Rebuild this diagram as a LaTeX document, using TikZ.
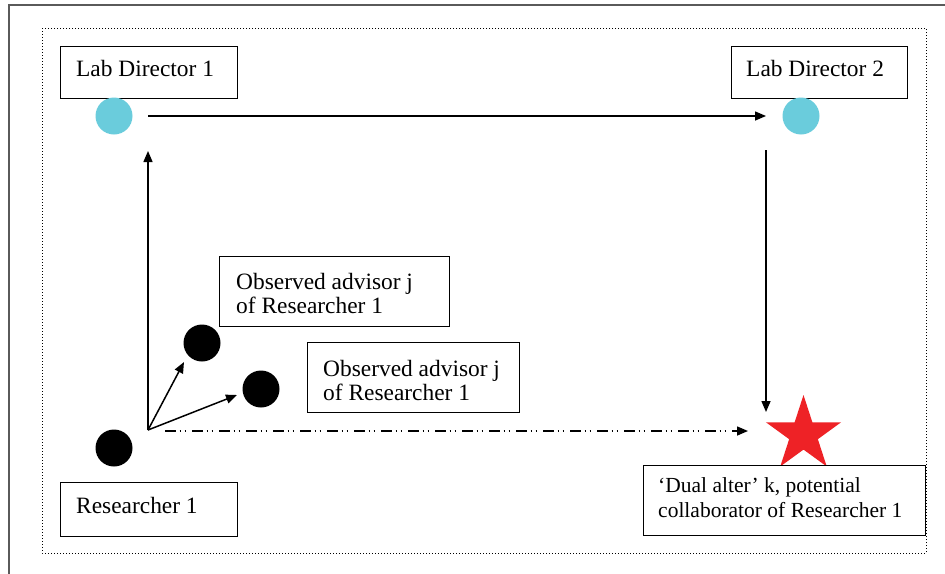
\documentclass[tikz,border=0pt]{standalone}
\usepackage{fontspec}
\setmainfont{Liberation Serif}
\usetikzlibrary{arrows.meta,shapes.geometric}
\tikzset{
  lbl/.style={draw=black, line width=1.1pt, anchor=north west, inner sep=0pt},
  txt/.style={inner sep=0pt, align=left, font=\fontsize{23.4}{24.5}\selectfont},
  dotc/.style={circle, fill=black, minimum size=37pt, inner sep=0pt},
  cyanc/.style={circle, fill=cyanfill, minimum size=37pt, inner sep=0pt},
  arr/.style={line width=1.5pt, -{Triangle[length=11pt,width=9pt]}},
}
\definecolor{cyanfill}{HTML}{6ACCDC}
\definecolor{starred}{HTML}{EE2226}
\definecolor{framegray}{HTML}{5A5A5A}
\begin{document}
\begin{tikzpicture}[x=1pt,y=-1pt]
\useasboundingbox (0,0) rectangle (945,573);
\clip (0,0) rectangle (945,573);
\fill[white] (0,0) rectangle (945,573);
% outer frame (cut by the page at right and bottom)
\draw[framegray, line width=1.6pt] (9,600) -- (9,5) -- (960,5);
% dotted frame
\draw[line width=1pt, dash pattern=on 1pt off 2pt] (42,28) rectangle (926,553);

% boxes
\node[lbl, minimum width=177pt, minimum height=52pt] (ld1box) at (60,46) {};
\node[txt, anchor=base west] (ld1) at (76,76) {Lab Director 1};
\node[lbl, minimum width=176pt, minimum height=52pt] (ld2box) at (731,46) {};
\node[txt, anchor=base west] (ld2) at (746,76) {Lab Director 2};
\node[lbl, minimum width=177pt, minimum height=54pt] (r1box) at (60,482) {};
\node[txt, anchor=base west] (r1) at (76,513) {Researcher 1};
\node[lbl, minimum width=230pt, minimum height=70pt] (oa1box) at (219,256) {};
\node[txt, anchor=north west] (oa1) at (236,273) {Observed advisor j\\of Researcher 1};
\node[lbl, minimum width=212pt, minimum height=70pt] (oa2box) at (307,342) {};
\node[txt, anchor=north west] (oa2) at (323,360) {Observed advisor j\\of Researcher 1};

% star (behind the dual-alter box)
\node[star, star points=5, star point ratio=2.618, fill=starred, minimum size=79pt, inner sep=0pt] (k) at (803.5,434.5) {};
\node[lbl, fill=white, minimum width=282pt, minimum height=70pt] (kbox) at (643,465) {};
\node[txt, anchor=north west, font=\fontsize{21.5}{25}\selectfont] (klbl) at (658,477) {‘Dual alter’ k, potential\\collaborator of Researcher 1};

% circles
\node[cyanc] (d1) at (114,116) {};
\node[cyanc] (d2) at (801,116) {};
\node[dotc] (res) at (114,448) {};
\node[dotc] (a1) at (202,343) {};
\node[dotc] (a2) at (261,389) {};

% connectors
\coordinate (o) at (148,430);
\coordinate (h1) at (148,116);
\coordinate (h2) at (766,116);
\coordinate (up) at (148,151);
\coordinate (v1) at (766,150);
\coordinate (v2) at (766,412);
\coordinate (t1) at (184,362);
\coordinate (t2) at (237,395);
\coordinate (ds) at (165,431);
\coordinate (de) at (748,431);
\draw[arr] (h1) -- (h2);
\draw[arr] (o) -- (up);
\draw[arr] (v1) -- (v2);
\draw[arr] (o) -- (t1);
\draw[arr] (o) -- (t2);
\draw[line width=1.5pt, dash pattern=on 11pt off 3.5pt on 1.5pt off 3.5pt on 1.5pt off 6pt, -{Triangle[length=11pt,width=9pt]}] (ds) -- (de);
\end{tikzpicture}
\end{document}
